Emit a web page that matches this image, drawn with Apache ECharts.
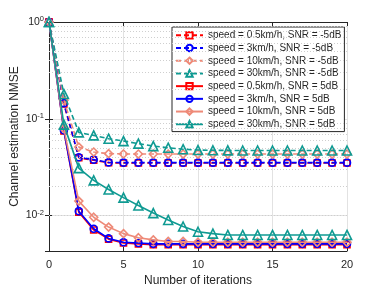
<!DOCTYPE html>
<html>
<head>
<meta charset="utf-8">
<script src="https://cdn.jsdelivr.net/npm/echarts@6/dist/echarts.min.js"></script>
<style>html,body{margin:0;padding:0;background:#fff}#c{width:382px;height:286px}</style>
</head>
<body>
<div id="c"></div>
<script>
var iterations = [0,1,2,3,4,5,6,7,8,9,10,11,12,13,14,15,16,17,18,19,20];
var seriesNames = [
  'speed = 0.5km/h, SNR = -5dB',
  'speed = 3km/h, SNR = -5dB',
  'speed = 10km/h, SNR = -5dB',
  'speed = 30km/h, SNR = -5dB',
  'speed = 0.5km/h, SNR = 5dB',
  'speed = 3km/h, SNR = 5dB',
  'speed = 10km/h, SNR = 5dB',
  'speed = 30km/h, SNR = 5dB'
];
var red_m5 = [1,0.142,0.0395,0.0372,0.0351,0.0349,0.0349,0.0349,0.0349,0.0349,0.0349,0.0349,0.0349,0.0349,0.0349,0.0349,0.0349,0.0349,0.0349,0.0349,0.0349];
var blue_m5 = [1,0.145,0.0400,0.0378,0.0354,0.0352,0.0352,0.0352,0.0352,0.0352,0.0352,0.0352,0.0352,0.0352,0.0352,0.0352,0.0352,0.0352,0.0352,0.0352,0.0352];
var salmon_m5 = [1,0.155,0.0510,0.0453,0.0436,0.0433,0.0432,0.0432,0.0432,0.0432,0.0432,0.0432,0.0432,0.0432,0.0432,0.0432,0.0432,0.0432,0.0432,0.0432,0.0432];
var teal_m5 = [1,0.180,0.0723,0.0673,0.0622,0.0588,0.0553,0.0522,0.0502,0.0485,0.0475,0.0472,0.0471,0.0470,0.0470,0.0470,0.0470,0.0470,0.0470,0.0470,0.0470];
var red_5 = [1,0.075,0.0108,0.0071,0.0057,0.0052,0.0051,0.0050,0.0050,0.0050,0.0050,0.0050,0.0050,0.0050,0.0050,0.0050,0.0050,0.0050,0.0050,0.0050,0.0050];
var blue_5 = [1,0.076,0.0111,0.0073,0.0058,0.0053,0.0052,0.0051,0.0051,0.0051,0.0051,0.0051,0.0051,0.0051,0.0051,0.0051,0.0051,0.0051,0.0051,0.0051,0.0051];
var salmon_5 = [1,0.079,0.0141,0.0096,0.0076,0.0065,0.0059,0.0056,0.0054,0.0054,0.0053,0.0053,0.0053,0.0053,0.0053,0.0053,0.0053,0.0053,0.0053,0.0053,0.0053];
var teal_5 = [1,0.087,0.0309,0.0231,0.0186,0.0153,0.0127,0.0106,0.0090,0.0077,0.0068,0.0065,0.0063,0.0063,0.0063,0.0063,0.0063,0.0063,0.0063,0.0063,0.0063];
var yMin = 0.0043, yMax = 1;
var minorGrid = [0.005,0.006,0.007,0.008,0.009,0.02,0.03,0.04,0.05,0.06,0.07,0.08,0.09,0.2,0.3,0.4,0.5,0.6,0.7,0.8,0.9];

var allData = [red_m5, blue_m5, salmon_m5, teal_m5, red_5, blue_5, salmon_5, teal_5];
var colors = ['#ff0000','#0000ff','#ee8a78','#0f9a92','#ff0000','#0000ff','#ee8a78','#0f9a92'];
var symbols = ['rect','circle','diamond','triangle','rect','circle','diamond','triangle'];
var sizes = [6,7,8,9,6,7,8,9];

var series = allData.map(function(d, i){
  var s = {
    name: seriesNames[i],
    type: 'line',
    xAxisIndex: 0, yAxisIndex: 0,
    data: d.map(function(v, k){ return [iterations[k], v]; }),
    symbol: symbols[i],
    symbolSize: sizes[i],
    showAllSymbol: true,
    lineStyle: {color: colors[i], width: 1.6, type: i < 4 ? [5,3] : 'solid'},
    itemStyle: {color: 'rgba(255,255,255,0)', borderColor: colors[i], borderWidth: 1.6},
    emphasis: {disabled: true},
    animation: false,
    z: 3 + i
  };
  if (i === 0) {
    s.markLine = {
      silent: true, symbol: 'none', animation: false,
      label: {show: false},
      lineStyle: {color: '#cfcfcf', type: [1,2], width: 1},
      data: minorGrid.map(function(v){ return {yAxis: v}; })
    };
  }
  return s;
});

var chart = echarts.init(document.getElementById('c'), null, {renderer: 'canvas'});
chart.setOption({
  backgroundColor: '#fff',
  animation: false,
  grid: {left: 49, right: 35, top: 22, bottom: 35, containLabel: false, outerBoundsMode: 'none'},
  legend: {
    orient: 'vertical', left: 172, top: 27,
    itemWidth: 27, itemHeight: 8, itemGap: 0,
    padding: [2,3,1,3],
    borderColor: '#262626', borderWidth: 1, backgroundColor: '#fff',
    textStyle: {fontFamily: 'Liberation Sans', fontSize: 10, color: '#262626', lineHeight: 12.7},
    data: seriesNames
  },
  xAxis: [{
    type: 'value', min: 0, max: 20, interval: 5,
    name: 'Number of iterations', nameLocation: 'middle', nameGap: 21,
    nameTextStyle: {fontFamily: 'Liberation Sans', fontSize: 12, color: '#262626'},
    axisLine: {lineStyle: {color: '#262626', width: 1}},
    axisTick: {inside: true, length: 4, lineStyle: {color: '#262626'}},
    axisLabel: {fontFamily: 'Liberation Sans', fontSize: 11, color: '#262626', margin: 8},
    splitLine: {show: true, lineStyle: {color: '#e2e2e2', width: 1}}
  },{
    type: 'value', min: 0, max: 20, interval: 5, position: 'top',
    axisLine: {show: true, lineStyle: {color: '#262626', width: 1}},
    axisTick: {show: true, inside: true, length: 4, lineStyle: {color: '#262626'}},
    axisLabel: {show: false}, splitLine: {show: false}
  }],
  yAxis: [{
    type: 'log', logBase: 10, min: yMin, max: yMax,
    name: 'Channel estimation NMSE', nameLocation: 'middle', nameGap: 28, nameMoveOverlap: false,
    nameTextStyle: {fontFamily: 'Liberation Sans', fontSize: 12, color: '#262626'},
    axisLine: {show: true, lineStyle: {color: '#262626', width: 1}},
    axisTick: {inside: true, length: 4, lineStyle: {color: '#262626'}},
    axisLabel: {
      showMinLabel: false, margin: 5,
      formatter: function(v){ var e = Math.round(Math.log10(v)); return '{b|10}{s|' + e + '}'; },
      rich: {
        b: {fontFamily: 'Liberation Sans', fontSize: 10.5, color: '#262626'},
        s: {fontFamily: 'Liberation Sans', fontSize: 7.5, color: '#262626', verticalAlign: 'top', padding: [0,0,6,0]}
      }
    },
    splitLine: {show: true, lineStyle: {color: '#e2e2e2', width: 1}}
  },{
    type: 'log', logBase: 10, min: yMin, max: yMax, position: 'right',
    axisLine: {show: true, lineStyle: {color: '#262626', width: 1}},
    axisTick: {show: true, inside: true, length: 4, lineStyle: {color: '#262626'}},
    axisLabel: {show: false}, splitLine: {show: false}
  }],
  series: series
});
</script>
</body>
</html>
